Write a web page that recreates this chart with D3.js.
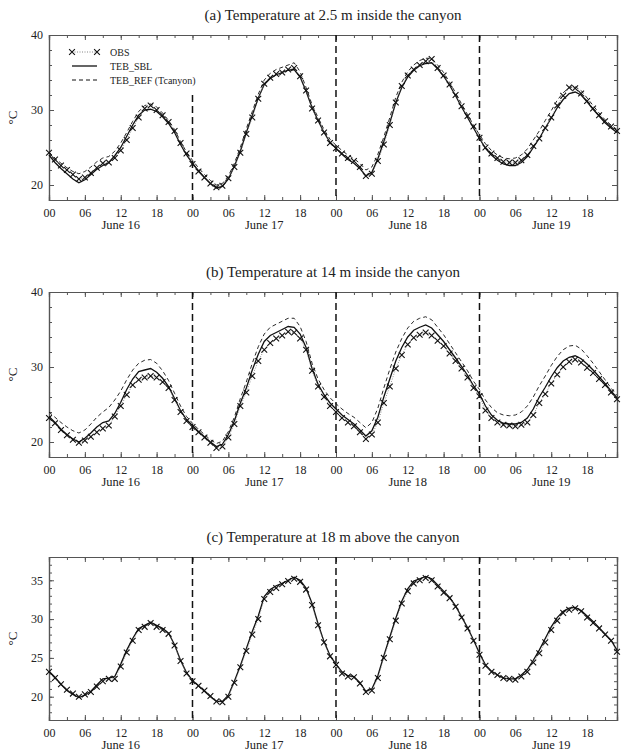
<!DOCTYPE html>
<html>
<head>
<meta charset="utf-8">
<script src="https://cdn.jsdelivr.net/npm/d3@7"></script>
<style>
  body { margin: 0; background: #fff; }
  svg { display: block; font-family: "Liberation Serif", "DejaVu Serif", serif; }
</style>
</head>
<body>
<svg width="622" height="754"></svg>
<script>
// hourly values, hour 0 = 00 June 16 ... hour 95 = 23 June 19
const days = ["June 16", "June 17", "June 18", "June 19"];
const hourTicks = [0, 6, 12, 18, 24, 30, 36, 42, 48, 54, 60, 66, 72, 78, 84, 90];
const hourLabels = ["00", "06", "12", "18", "00", "06", "12", "18", "00", "06", "12", "18", "00", "06", "12", "18"];
const midnights = [24, 48, 72];

// (a) 2.5 m inside the canyon
const obsA = [24.3, 23.4, 22.6, 22.0, 21.4, 20.8, 21.0, 21.6, 22.3, 22.9, 23.0, 23.6, 24.6, 26.0, 27.6, 29.0, 30.2, 30.6, 30.0, 29.3, 28.4, 27.2, 25.6, 24.2,
  22.8, 21.8, 21.0, 20.2, 19.7, 19.9, 20.9, 22.4, 24.3, 26.8, 29.0, 31.5, 33.5, 34.3, 34.8, 35.0, 35.4, 35.6, 34.5, 32.6, 30.2, 28.6, 27.0, 25.6,
  24.9, 24.2, 23.6, 23.2, 22.4, 21.2, 21.5, 23.2, 25.4, 28.0, 31.0, 33.2, 34.6, 35.4, 36.0, 36.5, 36.8, 35.6, 34.6, 33.4, 32.0, 30.5, 29.2, 27.8,
  26.3, 25.0, 24.2, 23.6, 23.1, 23.0, 23.0, 23.3, 24.0, 25.2, 26.2, 27.6, 29.0, 30.6, 31.9, 33.0, 32.9, 32.2, 31.2, 30.2, 29.3, 28.5, 27.8, 27.2];
const sblA = [24.0, 23.0, 22.2, 21.5, 20.8, 20.3, 20.7, 21.4, 22.1, 22.6, 23.0, 23.9, 25.0, 26.5, 28.0, 29.3, 30.0, 30.1, 29.8, 29.1, 28.2, 27.0, 25.4, 24.0,
  22.9, 21.9, 21.0, 20.2, 19.6, 19.8, 20.8, 22.5, 24.5, 27.0, 29.3, 31.6, 33.4, 34.2, 34.7, 35.0, 35.3, 35.4, 34.4, 32.5, 30.3, 28.6, 27.0, 25.7,
  24.9, 24.1, 23.4, 22.9, 22.2, 21.2, 21.7, 23.5, 25.8, 28.3, 31.0, 33.0, 34.4, 35.3, 35.9, 36.2, 36.3, 35.5, 34.5, 33.3, 31.9, 30.4, 29.0, 27.6,
  26.2, 24.9, 24.0, 23.3, 22.8, 22.6, 22.6, 23.0, 23.8, 25.0, 26.2, 27.6, 28.9, 30.3, 31.4, 32.2, 32.4, 32.0, 31.1, 30.1, 29.2, 28.3, 27.6, 27.0];
const refA = [24.4, 23.6, 22.9, 22.3, 21.8, 21.5, 21.8, 22.4, 23.1, 23.6, 23.8, 24.5, 25.6, 27.0, 28.5, 29.8, 30.6, 30.8, 30.4, 29.6, 28.6, 27.4, 25.8, 24.4,
  23.3, 22.3, 21.4, 20.6, 20.0, 20.2, 21.2, 22.9, 25.0, 27.5, 29.8, 32.1, 34.0, 34.9, 35.4, 35.7, 36.0, 36.3, 35.1, 33.0, 30.7, 29.0, 27.4, 26.1,
  25.3, 24.6, 24.0, 23.5, 22.9, 22.0, 22.4, 24.1, 26.4, 29.0, 31.7, 33.7, 35.1, 36.0, 36.6, 36.9, 36.9, 36.0, 35.0, 33.7, 32.3, 30.8, 29.4, 28.0,
  26.7, 25.5, 24.6, 24.0, 23.6, 23.5, 23.6, 24.0, 24.8, 26.0, 27.2, 28.6, 29.9, 31.3, 32.3, 33.0, 33.1, 32.6, 31.6, 30.6, 29.6, 28.7, 28.0, 27.4];

// (b) 14 m inside the canyon
const obsB = [23.2, 22.5, 21.6, 20.9, 20.3, 19.9, 20.2, 20.7, 21.3, 21.8, 22.2, 23.4, 24.8, 26.3, 27.6, 28.3, 28.6, 28.8, 28.6, 28.0, 27.2, 25.6, 24.0, 22.8,
  22.0, 21.3, 20.6, 19.9, 19.2, 19.4, 20.6, 22.4, 24.8, 26.6, 28.8, 30.8, 32.3, 33.2, 33.8, 34.2, 34.7, 34.6, 33.8, 32.3, 29.5, 27.4, 26.0, 24.8,
  24.0, 23.2, 22.6, 22.1, 21.3, 20.4, 21.0, 22.6, 25.2, 27.4, 29.8, 31.6, 33.0, 33.9, 34.3, 34.6, 34.2, 33.5, 32.8, 31.8, 30.8, 29.8, 28.6, 27.2,
  26.1, 24.2, 23.2, 22.6, 22.3, 22.2, 22.1, 22.3, 22.6, 23.6, 25.2, 26.4, 27.8, 29.0, 30.0, 30.7, 31.0, 30.6, 29.9, 29.2, 28.4, 27.6, 26.6, 25.7];
const sblB = [23.4, 22.6, 21.7, 21.0, 20.4, 20.0, 20.5, 21.2, 22.0, 22.6, 22.8, 23.8, 25.3, 27.0, 28.4, 29.4, 29.6, 29.8, 29.3, 28.5, 27.4, 25.8, 24.2, 23.0,
  22.2, 21.4, 20.7, 20.0, 19.4, 19.7, 21.0, 22.8, 25.2, 27.2, 29.6, 31.7, 33.4, 34.2, 34.6, 35.0, 35.4, 35.3, 34.4, 32.6, 29.8, 27.7, 26.3, 25.2,
  24.4, 23.6, 23.0, 22.4, 21.6, 20.8, 21.5, 23.3, 26.0, 28.4, 30.8, 32.6, 34.0, 34.9, 35.3, 35.6, 35.2, 34.3, 33.4, 32.3, 31.2, 30.1, 28.9, 27.5,
  26.4, 24.8, 23.6, 22.9, 22.5, 22.4, 22.4, 22.6, 23.2, 24.4, 26.0, 27.3, 28.7, 29.9, 30.8, 31.3, 31.5, 31.1, 30.4, 29.6, 28.7, 27.8, 26.8, 25.9];
const refB = [24.0, 23.3, 22.6, 22.0, 21.5, 21.2, 21.6, 22.4, 23.3, 24.0, 24.6, 25.6, 26.8, 28.3, 29.6, 30.5, 30.9, 31.0, 30.5, 29.5, 28.2, 26.5, 24.8, 23.4,
  22.5, 21.7, 21.0, 20.3, 19.8, 20.1, 21.4, 23.3, 25.8, 28.0, 30.5, 32.7, 34.4, 35.3, 35.7, 36.1, 36.5, 36.5, 35.4, 33.4, 30.5, 28.4, 27.0, 25.9,
  25.1, 24.4, 23.8, 23.3, 22.6, 21.9, 22.6, 24.5, 27.2, 29.7, 32.0, 33.8, 35.2, 36.1, 36.5, 36.7, 36.3, 35.3, 34.3, 33.1, 31.9, 30.7, 29.5, 28.1,
  27.0, 25.6, 24.6, 23.9, 23.6, 23.5, 23.6, 24.0, 24.8, 26.0, 27.5, 28.8, 30.2, 31.4, 32.3, 32.8, 32.9, 32.4, 31.5, 30.5, 29.4, 28.3, 27.2, 26.2];

// (c) 18 m above the canyon
const obsC = [23.2, 22.4, 21.6, 20.9, 20.4, 20.0, 20.3, 20.6, 21.3, 22.0, 22.3, 22.3, 23.9, 25.7, 27.2, 28.6, 29.0, 29.5, 29.0, 28.6, 28.1, 26.6, 24.6, 23.0,
  22.0, 21.4, 20.8, 20.1, 19.4, 19.3, 20.0, 21.8, 23.8, 25.9, 28.0, 30.0, 32.6, 33.5, 34.0, 34.5, 34.9, 35.2, 34.8, 33.8, 31.8, 29.2, 27.0, 25.2,
  24.1, 23.0, 22.6, 22.5, 21.7, 20.6, 20.8, 22.4, 25.0, 27.4, 29.8, 32.0, 33.6, 34.6, 35.0, 35.3, 35.0, 34.2, 33.4, 32.7, 31.6, 30.2, 28.8, 27.2,
  25.4, 24.0, 23.2, 22.8, 22.4, 22.3, 22.2, 22.6, 23.2, 24.4, 25.6, 27.0, 28.6, 29.8, 30.8, 31.2, 31.4, 31.0, 30.2, 29.5, 28.8, 28.0, 27.2, 25.8];
const sblC = [23.3, 22.5, 21.6, 20.8, 20.3, 19.9, 20.2, 20.7, 21.5, 22.3, 22.4, 22.6, 24.2, 26.0, 27.5, 28.8, 29.2, 29.6, 29.2, 28.8, 28.2, 26.7, 24.7, 23.1,
  22.1, 21.4, 20.7, 20.0, 19.4, 19.4, 20.2, 22.0, 24.0, 26.2, 28.4, 30.4, 32.9, 33.8, 34.3, 34.6, 35.0, 35.4, 35.0, 34.0, 32.0, 29.4, 27.1, 25.3,
  24.2, 23.2, 22.7, 22.6, 21.8, 20.7, 21.0, 22.7, 25.3, 27.7, 30.1, 32.3, 33.9, 34.9, 35.2, 35.5, 35.2, 34.4, 33.6, 32.8, 31.7, 30.3, 28.9, 27.3,
  25.6, 24.1, 23.3, 22.8, 22.4, 22.3, 22.3, 22.8, 23.5, 24.7, 26.0, 27.5, 29.0, 30.2, 31.0, 31.4, 31.5, 31.1, 30.4, 29.7, 28.9, 28.1, 27.3, 26.0];

const titles = [
  "(a) Temperature at 2.5 m inside the canyon",
  "(b) Temperature at 14 m inside the canyon",
  "(c) Temperature at 18 m above the canyon"
];
const yTicksAB = [20, 30, 40];
const yTicksC = [20, 25, 30, 35];
const legendNames = ["OBS", "TEB_SBL", "TEB_REF (Tcanyon)"];

const svg = d3.select("svg");
const left = 49, right = 617;

const panels = [
  { top: 35, bottom: 200, yDomain: [18, 40], ticks: yTicksAB, minor: 2, obs: obsA, sbl: sblA, ref: refA, title: titles[0] },
  { top: 292, bottom: 457, yDomain: [18, 40], ticks: yTicksAB, minor: 2, obs: obsB, sbl: sblB, ref: refB, title: titles[1] },
  { top: 557, bottom: 720, yDomain: [17, 38], ticks: yTicksC, minor: 1, obs: obsC, sbl: sblC, ref: null, title: titles[2] }
];

const x = d3.scaleLinear().domain([0, 95]).range([left, right]);
const minorX = d3.range(0, 96, 3);
const frameColor = "#555";

function xMark(g, cx, cy, s) {
  g.append("path")
    .attr("d", `M${cx - s},${cy - s}L${cx + s},${cy + s}M${cx - s},${cy + s}L${cx + s},${cy - s}`)
    .attr("stroke", "#111")
    .attr("stroke-width", 1.1);
}

panels.forEach((p, pi) => {
  const y = d3.scaleLinear().domain(p.yDomain).range([p.bottom, p.top]);
  const g = svg.append("g");

  // title
  g.append("text")
    .attr("x", 333)
    .attr("y", p.top - 15)
    .attr("text-anchor", "middle")
    .style("font-size", "15px")
    .attr("fill", "#222")
    .text(p.title);

  // axes with inward ticks
  const minorY = d3.range(Math.ceil(p.yDomain[0]), p.yDomain[1] + 0.01, p.minor);
  g.append("g")
    .attr("transform", `translate(0,${p.bottom})`)
    .call(d3.axisBottom(x).tickValues(minorX).tickSize(-3).tickFormat(""));
  g.append("g")
    .attr("transform", `translate(0,${p.bottom})`)
    .call(d3.axisBottom(x).tickValues(hourTicks).tickSize(-5).tickPadding(8)
      .tickFormat((d, i) => hourLabels[i]));
  g.append("g")
    .attr("transform", `translate(0,${p.top})`)
    .call(d3.axisTop(x).tickValues(minorX).tickSize(-3).tickFormat(""));
  g.append("g")
    .attr("transform", `translate(0,${p.top})`)
    .call(d3.axisTop(x).tickValues(hourTicks).tickSize(-5).tickFormat(""));
  g.append("g")
    .attr("transform", `translate(${left},0)`)
    .call(d3.axisLeft(y).tickValues(minorY).tickSize(-3).tickFormat(""));
  g.append("g")
    .attr("transform", `translate(${left},0)`)
    .call(d3.axisLeft(y).tickValues(p.ticks).tickSize(-5).tickPadding(6).tickFormat(d3.format("d")));
  g.append("g")
    .attr("transform", `translate(${right},0)`)
    .call(d3.axisRight(y).tickValues(minorY).tickSize(-3).tickFormat(""));
  g.append("g")
    .attr("transform", `translate(${right},0)`)
    .call(d3.axisRight(y).tickValues(p.ticks).tickSize(-5).tickFormat(""));

  g.selectAll(".domain").attr("stroke", frameColor).attr("stroke-width", 1.2);
  g.selectAll(".tick line").attr("stroke", frameColor);
  g.selectAll(".tick text")
    .style("font-family", "Liberation Serif, serif")
    .style("font-size", "12px")
    .attr("fill", "#222");

  // day labels
  g.selectAll(".day")
    .data(days)
    .join("text")
    .attr("x", (d, i) => x(i * 24 + 12))
    .attr("y", p.bottom + 29)
    .attr("text-anchor", "middle")
    .style("font-size", "12.5px")
    .attr("fill", "#222")
    .text((d) => d);

  // y label
  g.append("text")
    .attr("transform", `translate(17,${(p.top + p.bottom) / 2}) rotate(-90)`)
    .attr("text-anchor", "middle")
    .style("font-size", "13px")
    .attr("fill", "#222")
    .text("°C");

  // midnight separators (the first one in panel (a) stops below the legend)
  g.selectAll(".midnight")
    .data(midnights)
    .join("line")
    .attr("x1", (d) => x(d))
    .attr("x2", (d) => x(d))
    .attr("y1", (d, i) => (pi === 0 && i === 0 ? 95 : p.top))
    .attr("y2", p.bottom)
    .attr("stroke", "#111")
    .attr("stroke-width", 1.5)
    .attr("stroke-dasharray", "7,4");

  const line = d3.line().x((d, i) => x(i)).y((d) => y(d));

  if (p.ref) {
    g.append("path")
      .datum(p.ref)
      .attr("d", line)
      .attr("fill", "none")
      .attr("stroke", "#111")
      .attr("stroke-width", 0.9)
      .attr("stroke-dasharray", "4,3");
  }
  g.append("path")
    .datum(p.sbl)
    .attr("d", line)
    .attr("fill", "none")
    .attr("stroke", "#111")
    .attr("stroke-width", 1.3);
  g.append("path")
    .datum(p.obs)
    .attr("d", line)
    .attr("fill", "none")
    .attr("stroke", "#666")
    .attr("stroke-width", 0.7)
    .attr("stroke-dasharray", "1,1.5");

  const mk = g.append("g");
  p.obs.forEach((v, i) => xMark(mk, x(i), y(v), 2.9));

  // legend in first panel
  if (pi === 0) {
    const lg = g.append("g");
    const rows = [52, 66, 80];
    lg.append("line")
      .attr("x1", 72).attr("x2", 97).attr("y1", rows[0]).attr("y2", rows[0])
      .attr("stroke", "#666").attr("stroke-width", 0.8).attr("stroke-dasharray", "1,1.5");
    xMark(lg, 72, rows[0], 2.9);
    xMark(lg, 97, rows[0], 2.9);
    lg.append("line")
      .attr("x1", 72).attr("x2", 97).attr("y1", rows[1]).attr("y2", rows[1])
      .attr("stroke", "#111").attr("stroke-width", 1.3);
    lg.append("line")
      .attr("x1", 72).attr("x2", 97).attr("y1", rows[2]).attr("y2", rows[2])
      .attr("stroke", "#111").attr("stroke-width", 1).attr("stroke-dasharray", "4,3");
    lg.selectAll("text")
      .data(legendNames)
      .join("text")
      .attr("x", 110)
      .attr("y", (d, i) => rows[i] + 3.5)
      .style("font-size", "10px")
      .attr("fill", "#222")
      .text((d) => d);
  }
});
</script>
</body>
</html>
